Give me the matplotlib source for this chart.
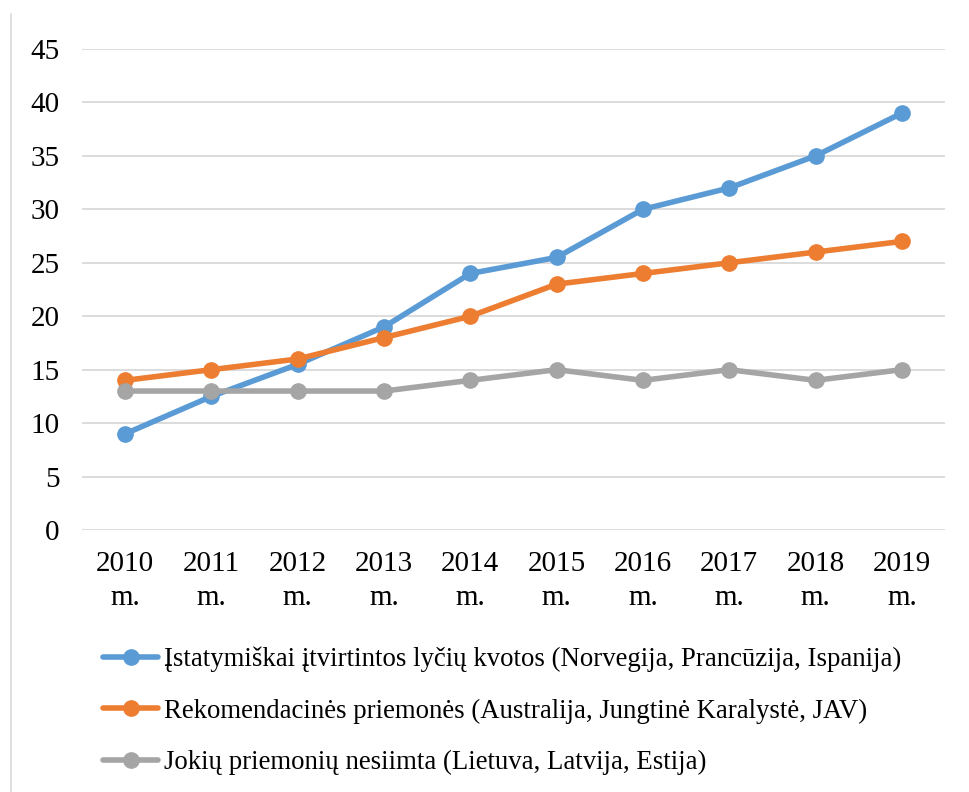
import matplotlib
matplotlib.use("Agg")
import matplotlib.pyplot as plt
from matplotlib.lines import Line2D

years = ["2010", "2011", "2012", "2013", "2014", "2015", "2016", "2017", "2018", "2019"]
x_labels = [y + "\nm." for y in years]
quotas = [9, 12.5, 15.5, 19, 24, 25.5, 30, 32, 35, 39]
recommend = [14, 15, 16, 18, 20, 23, 24, 25, 26, 27]
none_ = [13, 13, 13, 13, 14, 15, 14, 15, 14, 15]
series_names = [
    "Įstatymiškai įtvirtintos lyčių kvotos (Norvegija, Prancūzija, Ispanija)",
    "Rekomendacinės priemonės (Australija, Jungtinė Karalystė, JAV)",
    "Jokių priemonių nesiimta (Lietuva, Latvija, Estija)",
]
colors = ["#5B9BD5", "#ED7D31", "#A5A5A5"]
y_ticks = [0, 5, 10, 15, 20, 25, 30, 35, 40, 45]

plt.rcParams['font.family'] = ['Liberation Serif', 'DejaVu Serif']
FS = 21
LFS = 19.25

fig = plt.figure(figsize=(9.69, 7.92), dpi=100)
ax = fig.add_axes([82/969, 1-530/792, (945-82)/969, (530-49)/792])

xs = list(range(len(years)))
handles = []
for vals, name, c in zip([quotas, recommend, none_], series_names, colors):
    h, = ax.plot(xs, vals, color=c, lw=4, marker='o', markersize=11,
                 solid_capstyle='round', solid_joinstyle='round', label=name, zorder=3)
    handles.append(h)

ax.set_xlim(-0.5, len(years) - 0.5)
ax.set_ylim(0, 45)
ax.set_yticks(y_ticks)
ax.set_yticklabels([str(v) for v in y_ticks], fontsize=FS)
ax.set_xticks(xs)
ax.set_xticklabels(x_labels, fontsize=FS, linespacing=1.4)
ax.tick_params(axis='both', length=0)
ax.tick_params(axis='y', pad=16)
ax.tick_params(axis='x', pad=15)
ax.grid(axis='y', color='#D9D9D9', lw=1.3)
ax.set_axisbelow(True)
for s in ax.spines.values():
    s.set_visible(False)

leg = fig.legend(handles=handles, loc='upper left', bbox_to_anchor=(103/969, 1-647/792),
                 frameon=False, fontsize=LFS, handlelength=2.07, handletextpad=0.2,
                 labelspacing=0.98, borderpad=0, borderaxespad=0)

fig.add_artist(Line2D([10.5/969, 10.5/969], [0, 1-14/792], color='#D9D9D9', lw=1.2,
                      transform=fig.transFigure))

fig.savefig("out.png", dpi=100)
